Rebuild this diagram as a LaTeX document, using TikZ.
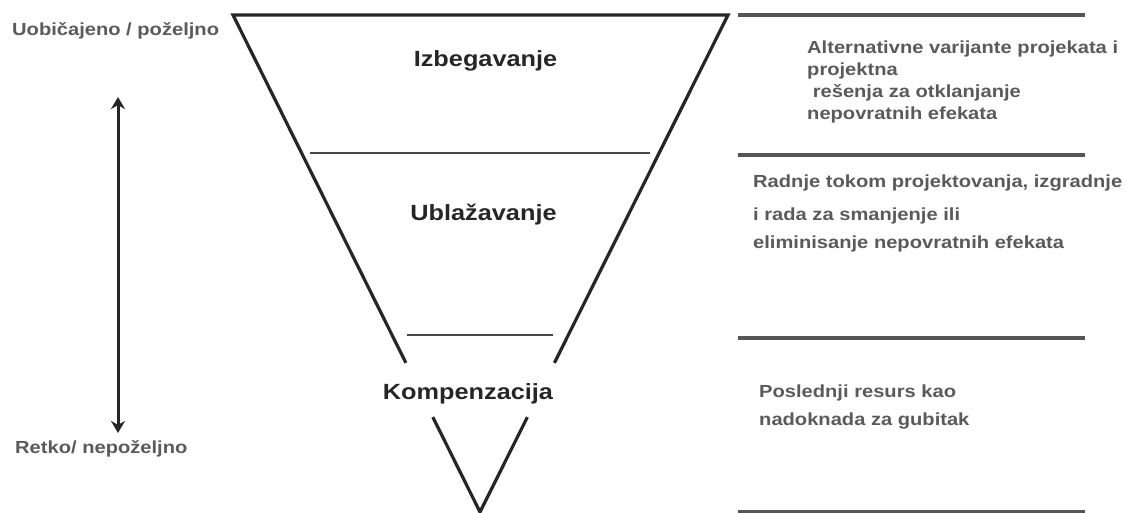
\documentclass[tikz,border=0pt]{standalone}
\usepackage{fontspec}
\setmainfont{Liberation Sans}[FakeStretch=1.15]
\usepackage{tikz}
\usetikzlibrary{arrows.meta,calc}
\definecolor{txtgray}{HTML}{5A5A5A}
\definecolor{linegray}{HTML}{555555}
\definecolor{darkline}{HTML}{262626}

\begin{document}
\begin{tikzpicture}[x=1pt,y=-1pt,
    stagelabel/.style={anchor=base,inner sep=0pt,text=darkline,font=\bfseries\fontsize{22}{26}\selectfont},
    sidetext/.style={anchor=base west,inner sep=0pt,text=txtgray,align=left,font=\bfseries\fontsize{17.5}{22}\selectfont},
    edge/.style={draw=darkline,line width=3.2pt,line join=miter},
    level/.style={draw=darkline!85,line width=2.4pt},
    rule/.style={draw=linegray,line width=3.8pt}]
    \useasboundingbox (0,0) rectangle (1126,513);

    \coordinate (tl)  at (233,15);
    \coordinate (tr)  at (728,15);
    \coordinate (tip) at (480,512);

    \draw[edge] ($(tl)!0.700!(tip)$) -- (tl) -- (tr) -- ($(tr)!0.700!(tip)$);
    \draw[edge] ($(tl)!0.809!(tip)$) -- (tip) -- ($(tr)!0.809!(tip)$);

    \draw[level] (310,153) -- (650,153);
    \draw[level] (407,335) -- (553,335);

    \node (izbeg) at (485.5,67) [stagelabel] {Izbegavanje};
    \node (ublaz) at (483.5,220) [stagelabel] {Ublažavanje};
    \node (kompe) at (468,399) [stagelabel] {Kompenzacija};

    \draw[rule] (738,15) -- (1085,15);
    \draw[rule] (738,155) -- (1085,155);
    \draw[rule] (738,338) -- (1085,338);
    \draw[rule] (738,512) -- (1085,512);

    \node (alter) at (807,120) [sidetext] {Alternativne varijante projekata i\\projektna\\\ rešenja za otklanjanje\\nepovratnih efekata};
    \node (radnje) at (753,248) [sidetext,font=\bfseries\fontsize{17.5}{28}\selectfont] {Radnje tokom projektovanja, izgradnje\\[5pt]i rada za smanjenje ili\\eliminisanje nepovratnih efekata};
    \node (posl) at (759,425) [sidetext,font=\bfseries\fontsize{17.5}{28}\selectfont] {Poslednji resurs kao\\nadoknada za gubitak};

    \node (uobic) at (12,36) [sidetext] {Uobičajeno / poželjno};
    \node (retko) at (15,453) [sidetext] {Retko/ nepoželjno};

    \coordinate (gore) at (118,97);
    \coordinate (dole) at (118,433);
    \draw[{Stealth[length=12pt,width=14pt]}-{Stealth[length=12pt,width=14pt]},draw=darkline,line width=3pt] (gore) -- (dole);
\end{tikzpicture}
\end{document}
